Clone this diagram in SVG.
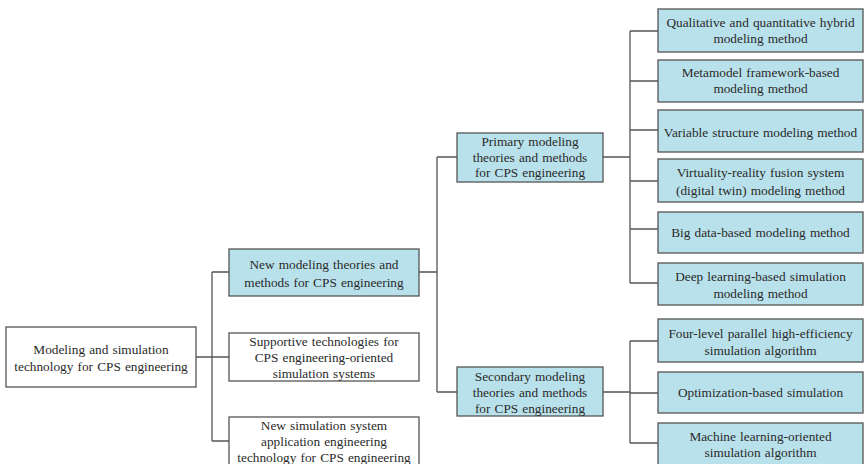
<svg xmlns="http://www.w3.org/2000/svg" width="865" height="464" viewBox="0 0 865 464">
  <style>
    .box { fill: #ffffff; stroke: #555555; stroke-width: 1.3; }
    .hl { fill: #b9e1eb; stroke: #555555; stroke-width: 1.3; }
    .lbl { font-family: "Liberation Serif", "Times New Roman", serif; font-size: 13.3px; word-spacing: 0.8px; fill: #2a2a2a; text-anchor: middle; }
    .wire { fill: none; stroke: #555555; stroke-width: 1.3; }
  </style>
  <rect width="865" height="464" fill="#ffffff"/>

  <!-- connectors -->
  <g id="connectors">
    <!-- root to level 1 -->
    <path class="wire" d="M196 357 H212 M212 272 V441 M212 272 H229 M212 357 H229 M212 441 H229"/>
    <!-- new modeling theories to primary/secondary -->
    <path class="wire" d="M419 272 H437 M437 157 V392 M437 157 H457 M437 392 H457"/>
    <!-- primary to its methods -->
    <path class="wire" d="M603 157 H630 M630 31 V283 M630 31 H658 M630 81 H658 M630 130 H658 M630 181 H658 M630 229 H658 M630 283 H658"/>
    <!-- secondary to its methods -->
    <path class="wire" d="M603 392 H630 M630 341 V443 M630 341 H658 M630 393 H658 M630 443 H658"/>
  </g>

  <g id="root">
    <rect class="box" x="6" y="327" width="190" height="60"/>
    <text class="lbl" x="101" y="354">Modeling and simulation</text>
    <text class="lbl" x="101" y="371">technology for CPS engineering</text>
  </g>

  <g id="new-modeling">
    <rect class="hl" x="229" y="249" width="190" height="47"/>
    <text class="lbl" x="324" y="269">New modeling theories and</text>
    <text class="lbl" x="324" y="287">methods for CPS engineering</text>
  </g>

  <g id="supportive">
    <rect class="box" x="229" y="333" width="190" height="48"/>
    <text class="lbl" x="324" y="346">Supportive technologies for</text>
    <text class="lbl" x="324" y="362">CPS engineering-oriented</text>
    <text class="lbl" x="324" y="378">simulation systems</text>
  </g>

  <g id="application">
    <rect class="box" x="229" y="417" width="190" height="50"/>
    <text class="lbl" x="324" y="430">New simulation system</text>
    <text class="lbl" x="324" y="446">application engineering</text>
    <text class="lbl" x="324" y="462">technology for CPS engineering</text>
  </g>

  <g id="primary">
    <rect class="hl" x="457" y="133" width="146" height="49"/>
    <text class="lbl" x="530" y="146">Primary modeling</text>
    <text class="lbl" x="530" y="162">theories and methods</text>
    <text class="lbl" x="530" y="177">for CPS engineering</text>
  </g>

  <g id="secondary">
    <rect class="hl" x="457" y="367" width="146" height="49"/>
    <text class="lbl" x="530" y="381">Secondary modeling</text>
    <text class="lbl" x="530" y="397">theories and methods</text>
    <text class="lbl" x="530" y="413">for CPS engineering</text>
  </g>

  <g id="hybrid">
    <rect class="hl" x="658" y="9" width="205" height="43"/>
    <text class="lbl" x="760.5" y="27">Qualitative and quantitative hybrid</text>
    <text class="lbl" x="760.5" y="43">modeling method</text>
  </g>

  <g id="metamodel">
    <rect class="hl" x="658" y="60" width="205" height="42"/>
    <text class="lbl" x="760.5" y="77">Metamodel framework-based</text>
    <text class="lbl" x="760.5" y="93">modeling method</text>
  </g>

  <g id="variable-structure">
    <rect class="hl" x="658" y="110" width="205" height="42"/>
    <text class="lbl" x="760.5" y="137">Variable structure modeling method</text>
  </g>

  <g id="digital-twin">
    <rect class="hl" x="658" y="159" width="205" height="43"/>
    <text class="lbl" x="760.5" y="177">Virtuality-reality fusion system</text>
    <text class="lbl" x="760.5" y="195">(digital twin) modeling method</text>
  </g>

  <g id="big-data">
    <rect class="hl" x="658" y="212" width="205" height="41"/>
    <text class="lbl" x="760.5" y="237">Big data-based modeling method</text>
  </g>

  <g id="deep-learning">
    <rect class="hl" x="658" y="263" width="205" height="42"/>
    <text class="lbl" x="760.5" y="281">Deep learning-based simulation</text>
    <text class="lbl" x="760.5" y="298">modeling method</text>
  </g>

  <g id="four-level">
    <rect class="hl" x="658" y="319" width="205" height="43"/>
    <text class="lbl" x="760.5" y="338">Four-level parallel high-efficiency</text>
    <text class="lbl" x="760.5" y="355">simulation algorithm</text>
  </g>

  <g id="optimization">
    <rect class="hl" x="658" y="372" width="205" height="41"/>
    <text class="lbl" x="760.5" y="397">Optimization-based simulation</text>
  </g>

  <g id="machine-learning">
    <rect class="hl" x="658" y="423" width="205" height="44"/>
    <text class="lbl" x="760.5" y="441">Machine learning-oriented</text>
    <text class="lbl" x="760.5" y="457">simulation algorithm</text>
  </g>
</svg>
